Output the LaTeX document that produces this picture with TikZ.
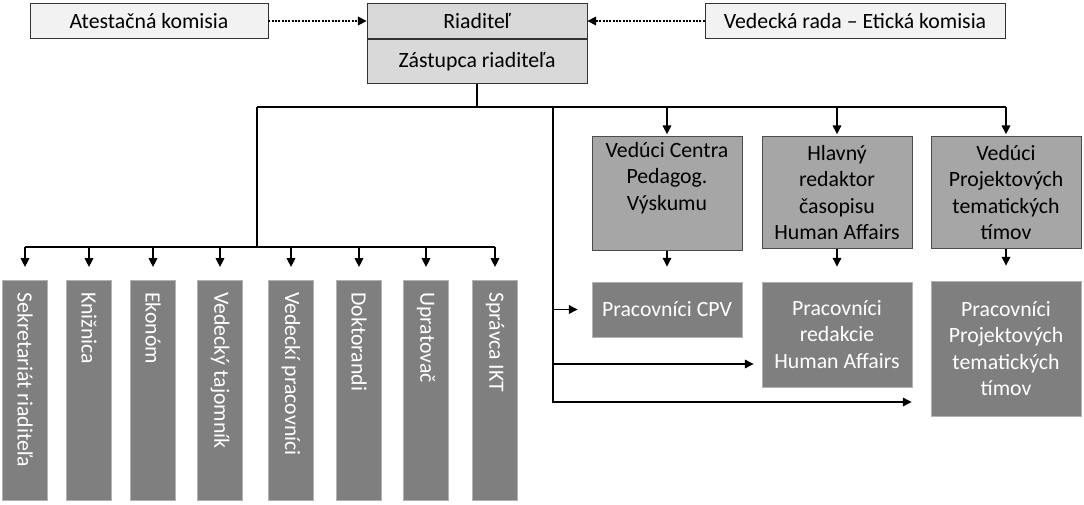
\documentclass[tikz,border=0pt]{standalone}
\usepackage{fontspec}
\setmainfont{Carlito}
\usetikzlibrary{arrows.meta,positioning}
\definecolor{boxlight}{HTML}{F2F2F2}
\definecolor{boxhead}{HTML}{D9D9D9}
\definecolor{boxmid}{HTML}{A6A6A6}
\definecolor{boxdark}{HTML}{7F7F7F}

\begin{document}
\begin{tikzpicture}[x=0.02cm, y=-0.02cm, font=\fontsize{12.4}{15}\selectfont,
    conn/.style={line width=1pt},
    arr/.style={conn, -{Triangle[length=5pt, width=4.8pt]}},
    dots/.style={line width=1.4pt, dash pattern=on 1.1pt off 0.8pt,
      -{Triangle[length=5pt, width=4.8pt]}},
    topbox/.style={draw=black!80, fill=boxlight, minimum height=0.7cm,
      inner sep=0pt},
    leader/.style={draw=black!70, fill=boxmid, text width=2.8cm,
      inner xsep=0.1cm, minimum height=2.24cm, align=flush center,
      anchor=north},
    worker/.style={draw=black!30, fill=boxdark, text=white, text width=2.8cm,
      inner xsep=0.1cm, align=flush center},
    staff/.style={draw=black!30, fill=boxdark, text=white, rotate=-90,
      anchor=west, text width=3.92cm, inner xsep=0.24cm,
      minimum height=0.9cm, align=flush left}]
  \useasboundingbox (0,0) rectangle (1084,504);

  % vedenie
  \node [topbox, minimum width=4.76cm] (ates) at (149,21) {Atestačná komisia};
  \node [topbox, fill=boxhead, minimum width=4.4cm] (rdir) at (477,21)
  {Riaditeľ};
  \node [topbox, fill=boxhead, minimum width=4.4cm, minimum height=0.88cm,
    below=0pt of rdir] (zast) {Zástupca riaditeľa};
  \node [topbox, minimum width=6cm] (vrada) at (855,21)
  {Vedecká rada – Etická komisia};

  \draw [dots] (ates) -- (rdir); \draw [dots] (vrada) -- (rdir);

  % vedúci a pracovníci
  \node [leader] (ldCPV) at (667,136) {Vedúci Centra\\Pedagog.\\Výskumu\\\strut};
  \node [leader] (ldHA) at (837,136) {Hlavný\\redaktor\\časopisu\\Human Affairs};
  \node [leader] (ldPT) at (1006,136) {Vedúci\\Projektových\\tematických\\tímov};

  \node [worker, minimum height=1.1cm] (wkCPV) at (667,309.5) {Pracovníci CPV};
  \node [worker, minimum height=2.1cm] (wkHA) at (837,334.5)
  {Pracovníci\\redakcie\\Human Affairs};
  \node [worker, minimum height=2.7cm] (wkPT) at (1006,348.5)
  {Pracovníci\\Projektových\\tematických\\tímov};

  % útvary
  \node [staff] (s1) at (25,280) {Sekretariát riaditeľa};
  \node [staff] (s2) at (89,280) {Knižnica};
  \node [staff] (s3) at (153,280) {Ekonóm};
  \node [staff] (s4) at (220,280) {Vedecký tajomník};
  \node [staff] (s5) at (291,280) {Vedeckí pracovníci};
  \node [staff] (s6) at (359,280) {Doktorandi};
  \node [staff] (s7) at (426,280) {Upratovač};
  \node [staff] (s8) at (495,280) {Správca IKT};

  % spojnice
  \coordinate (bus) at (zast.south |- 0,107);
  \coordinate (lbus) at (257,107);
  \coordinate (sbus) at (257,247);
  \coordinate (trunk) at (553,107);
  \draw [conn, line width=1.6pt] (zast.south) -- (bus);
  \draw [conn] (lbus) -- (ldPT.north |- bus);
  \draw [conn] (lbus) -- (sbus);
  \draw [conn] (s1.west |- sbus) -- (s8.west |- sbus);

  \draw [arr, shorten >=1pt] (ldCPV.north |- bus) -- (ldCPV);
  \draw [arr, shorten >=1pt] (ldHA.north |- bus) -- (ldHA);
  \draw [arr, shorten >=1pt] (ldPT.north |- bus) -- (ldPT);
  \draw [arr, shorten >=0.3cm] (ldCPV) -- (wkCPV);
  \draw [arr, shorten >=0.3cm] (ldHA) -- (wkHA);
  \draw [arr, shorten >=0.3cm] (ldPT) -- (wkPT);

  \draw [arr, shorten >=0.28cm] (trunk |- wkCPV) -- (wkCPV);
  \draw [arr, shorten >=0.16cm] (trunk |- 0,364) -- (wkHA.west |- 0,364);
  \draw [arr, shorten >=0.38cm] (trunk) |- (wkPT.west |- 0,402);

  \draw [arr, shorten >=0.26cm] (s1.west |- sbus) -- (s1.west);
  \draw [arr, shorten >=0.26cm] (s2.west |- sbus) -- (s2.west);
  \draw [arr, shorten >=0.26cm] (s3.west |- sbus) -- (s3.west);
  \draw [arr, shorten >=0.26cm] (s4.west |- sbus) -- (s4.west);
  \draw [arr, shorten >=0.26cm] (s5.west |- sbus) -- (s5.west);
  \draw [arr, shorten >=0.26cm] (s6.west |- sbus) -- (s6.west);
  \draw [arr, shorten >=0.26cm] (s7.west |- sbus) -- (s7.west);
  \draw [arr, shorten >=0.26cm] (s8.west |- sbus) -- (s8.west);
\end{tikzpicture}
\end{document}
